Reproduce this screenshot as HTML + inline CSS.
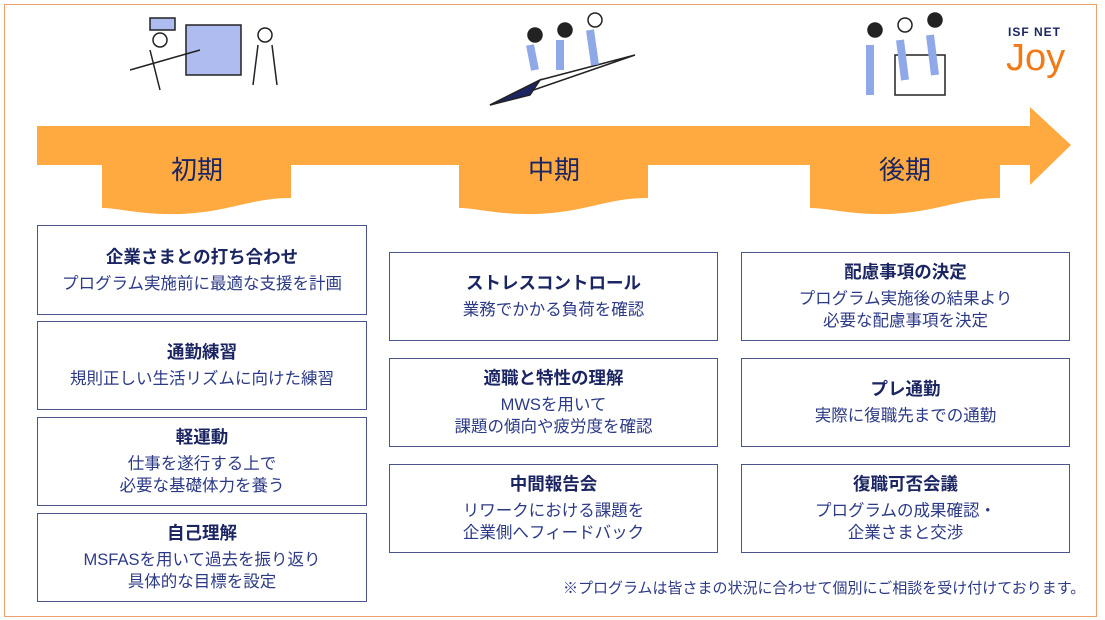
<!DOCTYPE html>
<html><head><meta charset="utf-8"><style>
*{margin:0;padding:0;box-sizing:border-box}
body{width:1105px;height:620px;background:#fff;position:relative;overflow:hidden;font-family:"Liberation Sans","Noto Sans CJK JP",sans-serif}
.frame{position:absolute;left:4px;top:4px;width:1093px;height:613px;border:1.5px solid #f0a06a}
.box{position:absolute;border:1.5px solid #4a5590;background:#fff;display:flex;flex-direction:column;justify-content:center;align-items:center;text-align:center}
.box b{font-size:17.5px;color:#1b2562;font-weight:bold;line-height:22px;margin-bottom:5px}
.box span{font-size:16.5px;color:#2c3a86;line-height:22px}
.c1{left:37px;width:330px}.c2{left:389px;width:329px}.c3{left:741px;width:329px}
.lbl{position:absolute;font-size:26px;color:#1b2562;top:150px;width:190px;text-align:center}
.note{position:absolute;left:563px;top:577px;font-size:15px;color:#2c3a86;white-space:nowrap}
</style></head><body>
<div class="frame"></div>
<svg width="1105" height="620" style="position:absolute;left:0;top:0">
<path d="M37 126 H1030 V107 L1071 145 L1030 185 V165 H37 Z" fill="#ffaa40"/>
<path d="M102 160 H291 V198 C250 198 230 212 180 214 C140 215 120 208 102 208 Z" fill="#ffaa40"/>
<path d="M459 160 H648 V198 C607 198 587 212 537 214 C497 215 477 208 459 208 Z" fill="#ffaa40"/>
<path d="M810 160 H1000 V198 C959 198 939 212 889 214 C849 215 829 208 810 208 Z" fill="#ffaa40"/>
<g fill="none" stroke="#222" stroke-width="1.5">
<rect x="186" y="25" width="55" height="50" fill="#aebcf0"/>
<circle cx="160" cy="40" r="7"/><path d="M150 50 l10 40 M130 70 l70 -20"/>
<circle cx="265" cy="35" r="7"/><path d="M258 45 l-5 40 M272 45 l5 40"/>
<rect x="150" y="18" width="25" height="12" fill="#aebcf0"/>
<path d="M490 105 L635 55 L540 80 Z" fill="#fff"/>
<path d="M490 105 L540 80 L530 95 Z" fill="#1b2562"/>
<circle cx="535" cy="35" r="7" fill="#222"/><circle cx="565" cy="30" r="7" fill="#222"/><circle cx="595" cy="20" r="7"/>
<path d="M530 45 l5 25 M560 40 l0 30 M590 30 l5 35" stroke-width="8" stroke="#8fa8e8"/>
<rect x="895" y="55" width="50" height="40" fill="#fff"/>
<circle cx="875" cy="30" r="7" fill="#222"/><circle cx="905" cy="25" r="7"/><circle cx="935" cy="20" r="7" fill="#222"/>
<path d="M870 45 l0 50 M900 40 l5 40 M930 35 l5 40" stroke-width="8" stroke="#8fa8e8"/>
</g>
</svg>
<div style="position:absolute;left:1008px;top:25px;font-size:12px;font-weight:bold;color:#1b2562;letter-spacing:1px">ISF NET</div>
<div style="position:absolute;left:1006px;top:38px;font-size:38px;color:#f07a18;line-height:40px">Joy</div>
<div class="lbl" style="left:102px">初期</div>
<div class="lbl" style="left:459px">中期</div>
<div class="lbl" style="left:810px">後期</div>

<div class="box c1" style="top:225px;height:90px"><b>企業さまとの打ち合わせ</b><span>プログラム実施前に最適な支援を計画</span></div>
<div class="box c1" style="top:321px;height:89px"><b>通勤練習</b><span>規則正しい生活リズムに向けた練習</span></div>
<div class="box c1" style="top:417px;height:89px"><b>軽運動</b><span>仕事を遂行する上で<br>必要な基礎体力を養う</span></div>
<div class="box c1" style="top:513px;height:89px"><b>自己理解</b><span>MSFASを用いて過去を振り返り<br>具体的な目標を設定</span></div>

<div class="box c2" style="top:252px;height:89px"><b>ストレスコントロール</b><span>業務でかかる負荷を確認</span></div>
<div class="box c2" style="top:358px;height:89px"><b>適職と特性の理解</b><span>MWSを用いて<br>課題の傾向や疲労度を確認</span></div>
<div class="box c2" style="top:464px;height:89px"><b>中間報告会</b><span>リワークにおける課題を<br>企業側へフィードバック</span></div>

<div class="box c3" style="top:252px;height:89px"><b>配慮事項の決定</b><span>プログラム実施後の結果より<br>必要な配慮事項を決定</span></div>
<div class="box c3" style="top:358px;height:89px"><b>プレ通勤</b><span>実際に復職先までの通勤</span></div>
<div class="box c3" style="top:464px;height:89px"><b>復職可否会議</b><span>プログラムの成果確認・<br>企業さまと交渉</span></div>

<div class="note">※プログラムは皆さまの状況に合わせて個別にご相談を受け付けております。</div>
</body></html>
